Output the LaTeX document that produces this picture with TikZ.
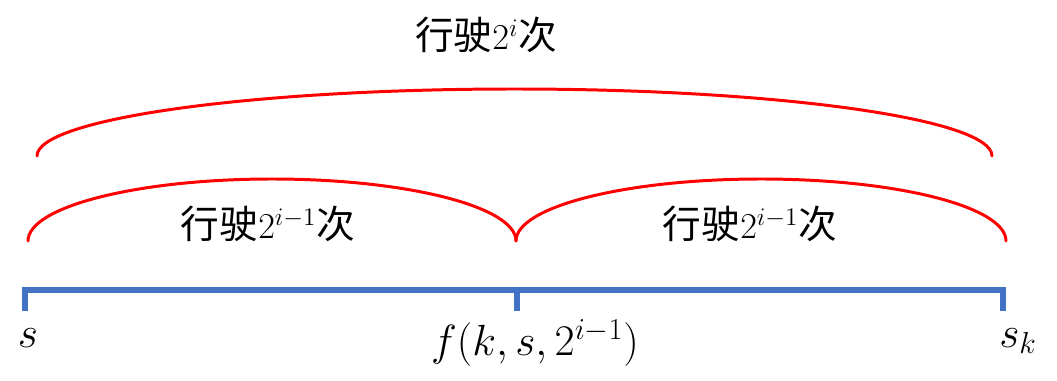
\documentclass[tikz,border=0pt]{standalone}
\usepackage{fontspec}
\newfontfamily\cjk{Noto Sans CJK SC}
\definecolor{axisblue}{HTML}{4472C4}
\tikzset{
  axisline/.style={draw=axisblue, line width=3.4pt, line join=miter},
  spanarc/.style={draw=red, line width=1.7pt, line cap=round},
  spanlabel/.style={anchor=base, inner sep=0pt},
  pointlabel/.style={anchor=base, inner sep=0pt, font=\fontsize{24}{28}\selectfont}
}
\begin{document}
\begin{tikzpicture}[x=0.02cm, y=-0.02cm, font=\fontsize{22}{26}\selectfont]
  \useasboundingbox (0,0) rectangle (1057,381);
  \def\k{0.5523}
  \newcommand{\halfarc}[4]{% left x, right x, foot y, height
    \pgfmathsetmacro{\rx}{(#2-#1)/2}
    \pgfmathsetmacro{\cx}{(#1+#2)/2}
    \draw[spanarc] (#1,#3) .. controls (#1,#3-\k*#4) and (\cx-\k*\rx,#3-#4) .. (\cx,#3-#4)
      .. controls (\cx+\k*\rx,#3-#4) and (#2,#3-\k*#4) .. (#2,#3);
  }
  % axis with ticks
  \coordinate (s) at (25,290);
  \coordinate (mid) at (517,290);
  \coordinate (sk) at (1003,290);
  \draw[axisline] ([yshift=-12]s) -- (s) -- (sk) -- ([yshift=-12]sk);
  \draw[axisline] (mid) -- ([yshift=-12]mid);
  % arcs
  \halfarc{28}{516}{241}{62}
  \halfarc{516}{1006}{241}{62}
  \halfarc{37}{992}{156}{67}
  % labels
  \node[spanlabel] (whole) at (486,50) {{\cjk 行驶}$2^{i}${\cjk 次}};
  \node[spanlabel] (firsthalf) at (268,239) {{\cjk 行驶}$2^{i-1}${\cjk 次}};
  \node[spanlabel] (secondhalf) at (750,239) {{\cjk 行驶}$2^{i-1}${\cjk 次}};
  \node[pointlabel] (slab) at (28,347) {$s$};
  \node[pointlabel] (midlab) at (535,355) {$f(k,s,2^{i-1})$};
  \node[pointlabel] (sklab) at (1018,347) {$s_k$};
\end{tikzpicture}
\end{document}
